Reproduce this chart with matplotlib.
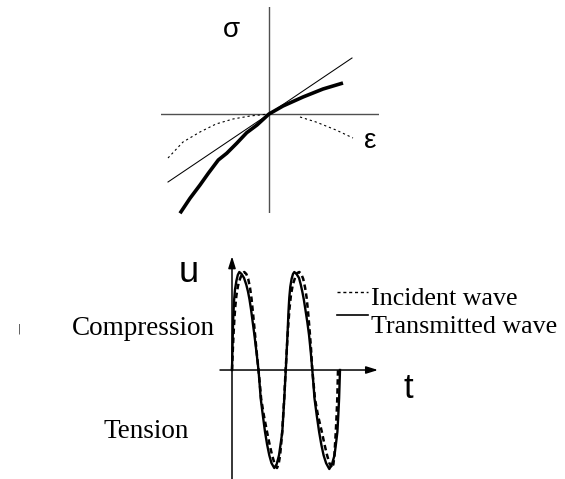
import matplotlib
matplotlib.use("Agg")
import matplotlib.pyplot as plt
from matplotlib.lines import Line2D

# ---------------- data: stress-strain sketch ----------------
line_eps = [-1.01, 0.83]
line_sig = [-0.68, 0.56]

thick_eps = [-0.89, -0.79, -0.69, -0.607, -0.507, -0.423, -0.323, -0.223, -0.12, 0.0,
             0.14, 0.34, 0.54, 0.74]
thick_sig = [-0.993, -0.843, -0.71, -0.593, -0.46, -0.393, -0.293, -0.187, -0.11, 0.0,
             0.08, 0.17, 0.25, 0.31]

dot_left_eps = [-1.01, -0.86, -0.69, -0.53, -0.36, -0.19, 0.0]
dot_left_sig = [-0.44, -0.28, -0.18, -0.10, -0.05, -0.02, 0.0]
dot_right_eps = [0.31, 0.47, 0.67, 0.84]
dot_right_sig = [-0.03, -0.08, -0.16, -0.24]

# ---------------- data: waves (time, displacement) ----------------
trans_t = [0, 0.6, 1.1, 2.0, 3.0, 4.4, 5.8, 7.3, 9.5, 12.0, 14.3, 16.0, 17.5, 19.0, 20.3, 22.5, 24.5, 26.5,
           27.6, 28.7, 30.8, 33.0, 35.1, 37.3, 39.5, 42.3, 44.7, 47.0, 48.7, 50.3, 51.3, 52.3, 53.0, 53.8,
           54.5, 55.2, 55.8, 56.5, 57.3, 58.3, 59.6, 61.0, 62.3, 64.5, 67.0, 68.8, 70.3, 71.8, 73.5, 75.3, 77.0, 78.7, 80.3,
           81.4, 82.5, 84.7, 87.1, 89.3, 91.6, 94.1, 97.3, 100.0, 102.5, 104.0, 105.4, 106.3, 107.1, 108.0]
trans_u = [0, 0.28, 0.50, 0.70, 0.82, 0.91, 0.97, 1.0, 0.98, 0.94, 0.87, 0.80, 0.72, 0.62, 0.52, 0.35, 0.18, 0,
           -0.14, -0.29, -0.46, -0.63, -0.76, -0.87, -0.95, -1.0, -0.96, -0.87, -0.75, -0.63, -0.46, -0.29, -0.15, 0,
           0.15, 0.30, 0.43, 0.60, 0.74, 0.85, 0.93, 0.98, 1.0, 0.98, 0.94, 0.87, 0.80, 0.72, 0.61, 0.49, 0.36, 0.19, 0,
           -0.14, -0.29, -0.46, -0.63, -0.76, -0.87, -0.95, -1.01, -0.96, -0.87, -0.75, -0.63, -0.46, -0.29, 0]

inc_t = [0, 0.8, 1.6, 2.5, 3.3, 4.4, 6.0, 8.0, 10.0, 12.3, 14.3, 16.2, 18.0, 19.5, 21.0, 22.7, 24.5, 26.5,
         27.8, 29.1, 31.8, 35.0, 37.6, 40.1, 42.4, 45.0, 46.6, 48.1, 49.2, 50.2, 51.2, 52.2, 52.9, 53.6,
         54.5, 55.4, 56.4, 57.5, 59.0, 60.8, 63.3, 65.3, 67.3, 69.2, 71.2, 73.1, 74.6, 76.0, 77.5, 79.0, 80.3,
         81.6, 82.9, 85.9, 89.8, 92.5, 95.1, 97.4, 100.0, 101.4, 102.4, 103.1, 103.8, 104.6, 105.3, 106.0]
inc_u = [0, 0.20, 0.38, 0.54, 0.65, 0.76, 0.86, 0.93, 0.98, 1.0, 0.98, 0.93, 0.84, 0.73, 0.58, 0.40, 0.20, 0,
         -0.14, -0.29, -0.46, -0.63, -0.76, -0.87, -0.95, -1.0, -0.96, -0.87, -0.75, -0.63, -0.46, -0.29, -0.15, 0,
         0.15, 0.32, 0.48, 0.63, 0.77, 0.87, 0.95, 0.99, 1.0, 0.98, 0.93, 0.84, 0.74, 0.60, 0.42, 0.22, 0,
         -0.14, -0.29, -0.46, -0.63, -0.76, -0.87, -0.95, -1.0, -0.96, -0.87, -0.75, -0.63, -0.46, -0.29, 0]

legend_labels = ["Incident wave", "Transmitted wave"]

W, H = 565, 479
fig = plt.figure(figsize=(W / 100, H / 100), dpi=100)
fig.patch.set_facecolor("white")


def fx(px):
    return px / W


def fy(py):
    return 1 - py / H


# ---------------- top panel ----------------
ax1 = fig.add_axes([fx(161), fy(213), 218 / W, 206 / H])
ax1.set_xlim(-1.08, 1.10)
ax1.set_ylim(-0.99, 1.07)
ax1.axis("off")
ax1.axhline(0, color="#505050", lw=1.0)
ax1.axvline(0, color="#505050", lw=1.0)
ax1.plot(line_eps, line_sig, color="black", lw=0.75, clip_on=False)
ax1.plot(dot_left_eps, dot_left_sig, color="black", lw=0.8, dashes=(2, 2.6), clip_on=False)
ax1.plot(dot_right_eps, dot_right_sig, color="black", lw=0.8, dashes=(2, 2.6), clip_on=False)
ax1.plot(thick_eps, thick_sig, color="black", lw=2.6, solid_capstyle="butt",
         solid_joinstyle="round", clip_on=False)

fig.text(fx(231.5), fy(36.7), "σ", fontsize=20, family="Liberation Sans",
         ha="center", va="baseline")
fig.text(fx(370.5), fy(148.3), "ε", fontsize=20, family="Liberation Sans",
         ha="center", va="baseline")

# ---------------- bottom panel ----------------
ax2 = fig.add_axes([fx(212), 0, 180 / W, 229 / H])
ax2.set_xlim(-20, 160)
ax2.set_ylim(-1.112, 1.2245)
ax2.axis("off")
arrow = dict(arrowstyle="-|>,head_length=0.7,head_width=0.22", lw=1.1, color="black",
             shrinkA=0, shrinkB=0, mutation_scale=10)
ax2.annotate("", xy=(0, 1.16), xytext=(0, -1.12), arrowprops=arrow, annotation_clip=False)
ax2.annotate("", xy=(146, 0), xytext=(-12, 0), arrowprops=arrow, annotation_clip=False)

ax2.plot(trans_t, trans_u, color="black", lw=1.7, clip_on=False)
ax2.plot(inc_t, inc_u, color="black", lw=1.8, dashes=(2.2, 1.4), clip_on=False)

fig.text(fx(188.5), fy(281.7), "u", fontsize=26, family="Liberation Sans",
         ha="center", va="baseline")
fig.text(fx(408.5), fy(398.3), "t", fontsize=25, family="Liberation Sans",
         ha="center", va="baseline")
fig.text(fx(72), fy(335), "Compression", fontsize=19.5, family="Liberation Serif",
         ha="left", va="baseline")
fig.text(fx(103.5), fy(438.3), "Tension", fontsize=19.5, family="Liberation Serif",
         ha="left", va="baseline")

# legend (drawn manually to match the sketch)
fig.add_artist(Line2D([fx(337), fx(368)], [fy(292), fy(292)], color="black", lw=1.0,
                      dashes=(2.2, 2.0), transform=fig.transFigure))
fig.add_artist(Line2D([fx(337), fx(368)], [fy(315), fy(315)], color="black", lw=1.2,
                      transform=fig.transFigure))
fig.text(fx(371), fy(305), legend_labels[0], fontsize=18.7, family="Liberation Serif",
         ha="left", va="baseline")
fig.text(fx(371), fy(333), legend_labels[1], fontsize=18.7, family="Liberation Serif",
         ha="left", va="baseline")

# small stray mark in the original scan
fig.text(fx(19), fy(331), "|", fontsize=7, color="#333333", ha="center", va="baseline")

fig.savefig("out.png", dpi=100, facecolor="white")
